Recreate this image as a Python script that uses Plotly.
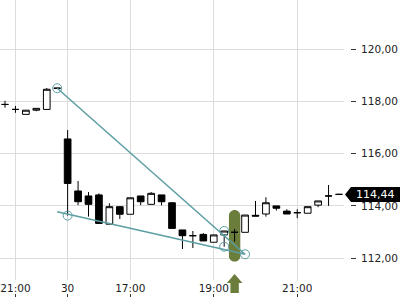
import plotly.graph_objects as go

# ---------------- data ----------------
times = ["20:45", "21:00", "21:15", "21:30", "21:45", "22:00",
         "15:30", "15:45", "16:00", "16:15", "16:30", "16:45", "17:00", "17:15",
         "17:30", "17:45", "18:00", "18:15", "18:30", "18:45", "19:00", "19:15",
         "19:30", "19:45", "20:00", "20:15", "20:30", "20:45", "21:00", "21:15",
         "21:30", "21:45", "22:00"]
opens = [117.88, 117.69, 117.50, 117.66, 117.69, 118.50,
         116.56, 114.57, 114.38, 114.42, 113.30, 113.97, 113.68, 114.38,
         114.06, 114.42, 114.12, 113.08, 112.86, 112.91, 112.61, 112.89,
         112.99, 112.99, 113.64, 113.69, 114.00, 113.80, 113.74, 113.72,
         114.03, 114.38, 114.44]
highs = [118.02, 117.82, 117.66, 117.73, 118.51, 118.52,
         116.90, 114.95, 114.53, 114.48, 114.10, 113.97, 114.31, 114.38,
         114.53, 114.42, 114.14, 113.08, 113.04, 112.96, 112.89, 113.04,
         113.12, 113.65, 114.19, 114.33, 114.00, 113.87, 113.87, 113.97,
         114.19, 114.80, 114.46]
lows = [117.76, 117.56, 117.50, 117.62, 117.69, 118.48,
        113.63, 114.03, 113.59, 113.33, 113.30, 113.50, 113.68, 114.03,
        114.06, 114.02, 113.12, 112.35, 112.39, 112.66, 112.61, 112.44,
        112.63, 112.99, 113.61, 113.59, 113.82, 113.69, 113.53, 113.72,
        113.95, 114.00, 114.42]
closes = [117.88, 117.69, 117.66, 117.73, 118.46, 118.50,
          114.86, 114.16, 114.06, 113.33, 113.97, 113.68, 114.31, 114.16,
          114.48, 114.16, 113.14, 112.86, 112.86, 112.66, 112.89, 113.04,
          112.99, 113.65, 113.61, 114.12, 113.91, 113.69, 113.74, 113.97,
          114.19, 114.38, 114.44]
idx = list(range(len(times)))

tick_idx = [1, 6, 12, 20, 28]
tick_text = ["21:00", "30", "17:00", "19:00", "21:00"]
y_ticks = [112, 114, 116, 118, 120]

upper_line_x = [5, 23]
upper_line_y = [118.50, 112.15]
lower_line_x = [5, 23]
lower_line_y = [113.78, 112.15]
circle_x = [5, 6, 21, 21, 23]
circle_y = [118.50, 113.63, 113.04, 112.44, 112.15]

hl_idx = 22
hl_top = 113.84
hl_bottom = 111.87

# ---------------- styling ----------------
X_RANGE = [-0.48, 32.48]
Y_RANGE = [111.166, 121.874]
X_DOM_END = 0.86
Y_DOM_START = 20 / 300
TEAL = "#5c9ea3"
GREEN = "#6b7d3a"
GRID = "#dcdcdc"
TXT = "#222222"
FONT = "DejaVu Sans"


def paper_x(i):
    return (i - X_RANGE[0]) / (X_RANGE[1] - X_RANGE[0]) * X_DOM_END


fig = go.Figure()
fig.add_trace(go.Candlestick(
    x=idx, open=opens, high=highs, low=lows, close=closes,
    increasing=dict(fillcolor="white", line=dict(color="black", width=1)),
    decreasing=dict(fillcolor="black", line=dict(color="black", width=1)),
    whiskerwidth=0, showlegend=False, hoverinfo="skip"))
fig.add_trace(go.Scatter(x=upper_line_x, y=upper_line_y, mode="lines",
                         line=dict(color=TEAL, width=1.5), showlegend=False, hoverinfo="skip"))
fig.add_trace(go.Scatter(x=lower_line_x, y=lower_line_y, mode="lines",
                         line=dict(color=TEAL, width=1.5), showlegend=False, hoverinfo="skip"))
fig.add_trace(go.Scatter(x=circle_x, y=circle_y, mode="markers",
                         marker=dict(symbol="circle-open", size=9, color=TEAL, line=dict(width=1)),
                         showlegend=False, hoverinfo="skip"))
# dummy trace so the overlay axes are drawn
fig.add_trace(go.Scatter(x=[idx[0]], y=[closes[0]], xaxis="x2", yaxis="y2", mode="markers",
                         marker=dict(opacity=0), showlegend=False, hoverinfo="skip"))

# rounded highlight bar
w = 0.545
r = 5.7 * (Y_RANGE[1] - Y_RANGE[0]) / 280
k = 0.5523
c = hl_idx
path = (f"M {c-w},{hl_top-r} "
        f"C {c-w},{hl_top-r+k*r} {c-k*w},{hl_top} {c},{hl_top} "
        f"C {c+k*w},{hl_top} {c+w},{hl_top-r+k*r} {c+w},{hl_top-r} "
        f"L {c+w},{hl_bottom+r} "
        f"C {c+w},{hl_bottom+r-k*r} {c+k*w},{hl_bottom} {c},{hl_bottom} "
        f"C {c-k*w},{hl_bottom} {c-w},{hl_bottom+r-k*r} {c-w},{hl_bottom+r} Z")
fig.add_shape(type="path", path=path, xref="x", yref="y", fillcolor=GREEN,
              line=dict(width=0), layer="between")

# arrow under the x axis
ax = paper_x(hl_idx)
hw, sw = 7.8 / 400, 4.2 / 400
y_tip, y_base, y_bot = 1 - 274 / 300, 1 - 283 / 300, 1 - 293 / 300
arrow = (f"M {ax},{y_tip} L {ax+hw},{y_base} L {ax+sw},{y_base} L {ax+sw},{y_bot} "
         f"L {ax-sw},{y_bot} L {ax-sw},{y_base} L {ax-hw},{y_base} Z")
fig.add_shape(type="path", path=arrow, xref="paper", yref="paper", fillcolor=GREEN,
              line=dict(width=0), layer="above")

# last price label
last = closes[-1]
hh = 7.5 * (Y_RANGE[1] - Y_RANGE[0]) / 280
tip_x, box_l = 345 / 400, 351 / 400
label = (f"M {tip_x},{last} L {box_l},{last+hh} L 1,{last+hh} L 1,{last-hh} "
         f"L {box_l},{last-hh} Z")
fig.add_shape(type="path", path=label, xref="paper", yref="y", fillcolor="black",
              line=dict(width=0), layer="above")
fig.add_annotation(x=(box_l + 1) / 2, y=last, xref="paper", yref="y",
                   text=f"{last:.2f}".replace(".", ","), showarrow=False,
                   font=dict(family=FONT, size=11, color="white"),
                   xanchor="center", yanchor="middle")

fig.update_layout(
    width=400, height=300, margin=dict(l=0, r=0, t=0, b=0),
    paper_bgcolor="white", plot_bgcolor="white",
    separators=",.", boxgap=0.36, boxgroupgap=0,
    font=dict(family=FONT, size=10.5, color=TXT),
    xaxis=dict(domain=[0, X_DOM_END], range=X_RANGE, rangeslider=dict(visible=False),
               tickmode="array", tickvals=tick_idx, ticktext=tick_text,
               showgrid=True, gridcolor=GRID, gridwidth=1, zeroline=False,
               ticks="", showline=False, fixedrange=True,
               tickfont=dict(family=FONT, size=10.5, color=TXT)),
    xaxis2=dict(overlaying="x", anchor="free", position=0.01, range=X_RANGE,
                tickmode="array", tickvals=tick_idx, showticklabels=False,
                ticks="inside", ticklen=3, tickcolor="#333", showgrid=False,
                zeroline=False, showline=False, fixedrange=True),
    yaxis=dict(domain=[Y_DOM_START, 1], range=Y_RANGE, tickmode="array", tickvals=y_ticks,
               showticklabels=False, ticks="", showgrid=True, gridcolor=GRID, gridwidth=1,
               zeroline=False, showline=False, fixedrange=True),
    yaxis2=dict(overlaying="y", anchor="free", position=350 / 400, side="right",
                range=Y_RANGE, tickmode="array", tickvals=y_ticks, tickformat=".2f",
                ticks="outside", ticklen=5, tickcolor="#333", showgrid=False,
                zeroline=False, showline=False, fixedrange=True, ticklabelstandoff=3,
                tickfont=dict(family=FONT, size=10.5, color=TXT)),
)

fig.write_html("out.html")
